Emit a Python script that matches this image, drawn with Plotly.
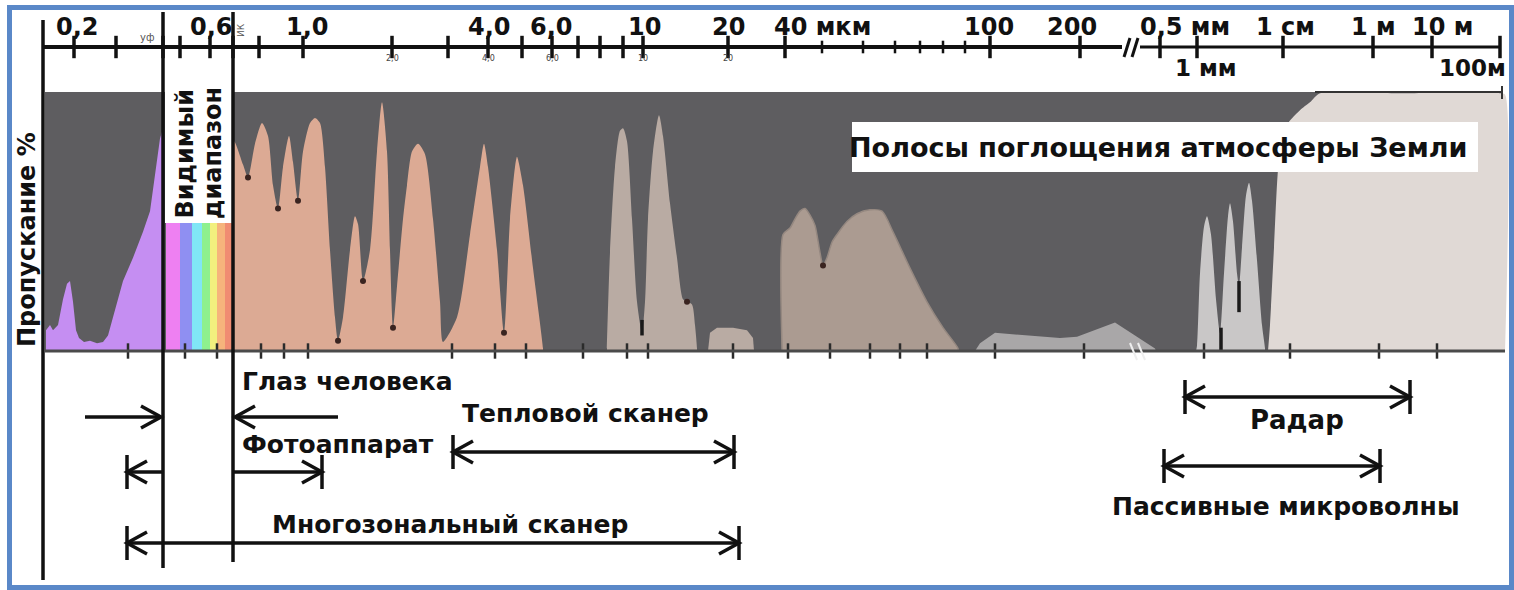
import plotly.graph_objects as go

# ---------------- data ----------------
# x: position along the drawn (non-uniform, piecewise-log) wavelength scale
# y: transmission of the Earth's atmosphere, %
UV_POS = [46, 46, 50, 53, 58, 63, 67, 70, 73, 76, 79, 84, 90, 97, 103, 108, 113, 118, 123, 133, 143, 150, 153, 156, 160, 163, 163]
UV_T = [0, 8, 10, 8, 10, 20, 26, 27, 19, 8, 5, 3.5, 4, 3, 3.5, 6, 13, 20, 27, 36, 46, 54, 62, 72, 82, 86, 0]

NIR_POS = [234, 234, 243, 248, 255, 262, 268, 273, 278, 283, 289, 293, 298, 303, 310, 315, 320, 325, 330, 335,
           338, 343, 350, 355, 358, 363, 370, 377, 382, 387, 390, 393, 397, 403, 407, 412, 418, 425, 433, 440,
           443, 457, 470, 480, 484, 488, 497, 504, 510, 515, 517, 523, 533, 543, 543]
NIR_T = [0, 81, 72, 67, 80, 88, 83, 64, 55, 71, 83, 73, 58, 77, 88, 90, 88, 71, 39, 13,
         4, 13, 39, 52, 49, 27, 39, 77, 96, 77, 39, 9, 25, 51, 64, 77, 80, 76, 51, 19,
         3.5, 13, 45, 71, 80, 71, 39, 7, 51, 71, 75, 64, 32, 1, 0]

TIR_A_POS = [607, 607, 610, 615, 620, 623, 627, 632, 637, 642, 645, 648, 653, 659, 663, 670, 677, 683, 687, 692, 695, 697, 697]
TIR_A_T = [0, 1, 38, 71, 85, 86, 81, 51, 19, 7, 19, 51, 77, 91, 83, 57, 36, 20, 19, 18, 10, 1, 0]

TIR_B_POS = [708, 710, 717, 733, 747, 753, 754]
TIR_B_T = [0, 7, 9, 9, 8, 5, 0]

TIR_C_POS = [782, 782, 783, 790, 795, 800, 805, 810, 815, 820, 823, 827, 832, 837, 847, 857, 870, 882, 893, 910, 927, 943, 958, 958]
TIR_C_T = [0, 1, 45, 47.5, 51, 54, 55, 52.5, 48.5, 38, 33, 36, 42, 45, 50, 53, 54.5, 54, 46, 32, 19, 9, 1, 0]

FIR_POS = [975, 980, 995, 1030, 1060, 1077, 1095, 1115, 1135, 1155, 1156]
FIR_T = [0, 3, 7, 6, 5, 5.5, 8, 11, 6, 1, 0]

MW_POS = [1196, 1197, 1200, 1204, 1207, 1211, 1216, 1220, 1224, 1228, 1230, 1233, 1237, 1239, 1242, 1246, 1249, 1252, 1257, 1262, 1265, 1265]
MW_T = [0, 2, 30, 48, 52, 45, 20, 7, 30, 52, 57, 50, 30, 25, 40, 60, 65, 58, 35, 10, 1, 0]

RADIO_POS = [1268, 1270, 1274, 1278, 1283, 1290, 1300, 1310, 1320, 1400, 1500, 1505, 1505]
RADIO_T = [0, 10, 40, 70, 85, 89, 93, 96, 99.5, 99.5, 99.5, 99, 0]

# absorption-line marks
DOT_POS = [248, 278, 298, 338, 363, 393, 504, 687, 823]
DOT_T = [67, 55, 58, 4, 27, 9, 7, 19, 33]
SLIT_POS = [642, 1221, 1239]
SLIT_LO = [6, 0, 15]
SLIT_HI = [12, 9, 27]

# visible spectrum
VIS_EDGES = [166, 180, 192, 202, 210, 217, 225, 233]
VIS_COLORS = ["#ee80f2", "#8f8ff2", "#80e6f6", "#8ef08e", "#f2f07e", "#f6b47c", "#f08c72"]
VIS_RANGE = [163, 233]
UV_EDGE = 43

# wavelength scale
TOP_TICKS_MAJOR = [74, 116, 163, 180, 210, 233, 259, 303, 392, 448, 488, 522, 552, 578, 600, 623, 643, 728, 785,
                   990, 1080, 1160, 1197, 1283, 1373, 1432, 1500]
TOP_TICKS_MINOR = [822, 863, 895, 920, 943, 965]
TOP_LABELS = ["0,2", "0,6", "1,0", "4,0", "6,0", "10", "20", "40 мкм", "100", "200", "0,5 мм", "1 см", "1 м", "10 м"]
TOP_LABEL_POS = [77, 211, 307, 489, 551, 644, 728, 822, 989, 1072, 1185, 1285, 1373, 1442]
ROW2_LABELS = ["1 мм", "100м"]
ROW2_POS = [1206, 1472]
SMALL_LABELS = ["2,0", "4,0", "6,0", "10", "20"]
SMALL_POS = [392, 488, 552, 643, 728]
BOTTOM_TICKS = [128, 185, 217, 261, 284, 308, 452, 495, 526, 583, 627, 648, 733, 788, 830, 870, 900, 927,
                995, 1084, 1204, 1290, 1379, 1437]
AXIS_START, AXIS_BREAK, AXIS_RESUME, AXIS_END = 42, 1122, 1140, 1500
BAND_START, BAND_END = 45, 1502

# sensors (ranges along the scale)
INSTR = ["Глаз человека", "Фотоаппарат", "Тепловой сканер", "Многозональный сканер", "Радар", "Пассивные микроволны"]
INSTR_LO = [163, 127, 453, 127, 1185, 1164]
INSTR_HI = [233, 322, 734, 739, 1410, 1380]

# ---------------- layout helpers ----------------
W, H = 1514, 590
BASE_PX, PX_PER_PCT = 351, 2.59


def yv(px):
    """vertical pixel row -> transmission axis value"""
    return (BASE_PX - px) / PX_PER_PCT


FONT = "DejaVu Sans"
BLACK = "#111111"
shapes = []
annotations = []


def line(x0, p0, x1, p1, w=3.5, color=BLACK, layer="above"):
    shapes.append(dict(type="line", xref="x", yref="y", x0=x0, x1=x1, y0=yv(p0), y1=yv(p1),
                       line=dict(color=color, width=w), layer=layer))


def rect(x0, p0, x1, p1, fill, layer="above", lw=0, lc=None):
    shapes.append(dict(type="rect", xref="x", yref="y", x0=x0, x1=x1, y0=yv(p1), y1=yv(p0),
                       fillcolor=fill, line=dict(width=lw, color=lc or fill), layer=layer))


HEAD_L, HEAD_H, BAR_H = 20, 11, 17


def head(xt, p, d, bar=False):
    path = (f"M {xt - d * HEAD_L},{yv(p - HEAD_H)} L {xt},{yv(p)} "
            f"L {xt - d * HEAD_L},{yv(p + HEAD_H)}")
    shapes.append(dict(type="path", xref="x", yref="y", path=path,
                       line=dict(color=BLACK, width=3.5), layer="above"))
    if bar:
        line(xt, p - BAR_H, xt, p + BAR_H, w=3.5)


def text(x, p, s, size, xanchor="center", angle=0, color=BLACK, yanchor="middle", bold=True):
    annotations.append(dict(x=x, y=yv(p), xref="x", yref="y", text=s, showarrow=False,
                            xanchor=xanchor, yanchor=yanchor, textangle=angle,
                            font=dict(family=FONT, size=size, color=color, weight=700 if bold else 400)))


fig = go.Figure()

# absorption background band
rect(BAND_START, 92, BAND_END, BASE_PX, "#5e5d60", layer="below")

# transmission windows
windows = [
    (UV_POS, UV_T, "#c58ef2", None, "linear"),
    (NIR_POS, NIR_T, "#dcaa94", None, "spline"),
    (TIR_A_POS, TIR_A_T, "#b9aba3", None, "spline"),
    (TIR_B_POS, TIR_B_T, "#b9aba3", None, "linear"),
    (TIR_C_POS, TIR_C_T, "#ab9b91", "#958880", "spline"),
    (FIR_POS, FIR_T, "#a9a7a8", None, "linear"),
    (MW_POS, MW_T, "#c9c7c7", None, "spline"),
    (RADIO_POS, RADIO_T, "#e0d9d5", None, "spline"),
]
for xs, ys, col, edge, shp in windows:
    fig.add_trace(go.Scatter(x=xs, y=ys, fill="toself", fillcolor=col, mode="lines",
                             line=dict(width=1.5 if edge else 0, color=edge or col, shape=shp, smoothing=0.7),
                             hoverinfo="skip", showlegend=False))

# visible rainbow
centers = [(a + b) / 2 for a, b in zip(VIS_EDGES[:-1], VIS_EDGES[1:])]
widths = [b - a for a, b in zip(VIS_EDGES[:-1], VIS_EDGES[1:])]
fig.add_trace(go.Bar(x=centers, y=[100] * len(centers), width=widths, marker=dict(color=VIS_COLORS, line=dict(width=0)),
                     hoverinfo="skip", showlegend=False))

# absorption line marks
fig.add_trace(go.Scatter(x=DOT_POS, y=DOT_T, mode="markers", marker=dict(size=6, color="#3a2420"),
                         hoverinfo="skip", showlegend=False))
sx, sy = [], []
for x, lo, hi in zip(SLIT_POS, SLIT_LO, SLIT_HI):
    sx += [x, x, None]
    sy += [lo, hi, None]
fig.add_trace(go.Scatter(x=sx, y=sy, mode="lines", line=dict(color="#1a1a1a", width=3.5),
                         hoverinfo="skip", showlegend=False))

# top wavelength scale ticks
fig.add_trace(go.Scatter(x=TOP_TICKS_MAJOR, y=[yv(47)] * len(TOP_TICKS_MAJOR), mode="markers",
                         marker=dict(symbol="line-ns", size=16, line=dict(width=3.5, color=BLACK)),
                         hoverinfo="skip", showlegend=False))
fig.add_trace(go.Scatter(x=TOP_TICKS_MINOR, y=[yv(47)] * len(TOP_TICKS_MINOR), mode="markers",
                         marker=dict(symbol="line-ns", size=9, line=dict(width=2.5, color=BLACK)),
                         hoverinfo="skip", showlegend=False))
fig.add_trace(go.Scatter(x=BOTTOM_TICKS, y=[0] * len(BOTTOM_TICKS), mode="markers",
                         marker=dict(symbol="line-ns", size=11, line=dict(width=2.5, color="#2b2b2b")),
                         hoverinfo="skip", showlegend=False))

# white boxes
rect(VIS_RANGE[0] + 2, 84, VIS_RANGE[1] - 1, 223, "white")
rect(852, 122, 1478, 172, "white")

# band bottom line and top-right edge
line(BAND_START, BASE_PX, 1505, BASE_PX, w=3, color="#4a4a4a")
line(1315, 92, BAND_END, 92, w=2, color="#333333")
line(BAND_END, 86, BAND_END, 99, w=2, color="#333333")
line(1130, 343, 1137, 360, w=2, color="#eeeeee")
line(1138, 343, 1145, 360, w=2, color="#eeeeee")

# top axis
line(AXIS_START, 47, AXIS_BREAK, 47, w=4)
line(AXIS_RESUME, 47, AXIS_END, 47, w=3)
line(AXIS_BREAK + 2, 57, AXIS_BREAK + 8, 38, w=3)
line(AXIS_BREAK + 10, 57, AXIS_BREAK + 16, 38, w=3)

# vertical boundary lines
line(UV_EDGE, 20, UV_EDGE, 580)
line(VIS_RANGE[0], 12, VIS_RANGE[0], 568)
line(VIS_RANGE[1], 12, VIS_RANGE[1], 562)

# sensor arrows
lo, hi = INSTR_LO[0], INSTR_HI[0]
line(lo - 78, 417, lo - 2, 417); head(lo - 2, 417, +1)
line(hi + 2, 417, hi + 105, 417); head(hi + 2, 417, -1)

lo, hi = INSTR_LO[1], INSTR_HI[1]
line(VIS_RANGE[0], 472, lo, 472); head(lo, 472, -1, bar=True)
line(VIS_RANGE[1], 472, hi, 472); head(hi, 472, +1, bar=True)

rows = {2: 452, 3: 543, 4: 397, 5: 466}
for i, p in rows.items():
    lo, hi = INSTR_LO[i], INSTR_HI[i]
    line(lo, p, hi, p)
    head(lo, p, -1, bar=True)
    head(hi, p, +1, bar=True)

# border
shapes.append(dict(type="rect", xref="x", yref="y", x0=9.5, x1=1511.5, y0=yv(587.5), y1=yv(7.5),
                   line=dict(color="#5a88c8", width=5), fillcolor="rgba(0,0,0,0)", layer="above"))

# texts
for s, x in zip(TOP_LABELS, TOP_LABEL_POS):
    text(x, 27, s, 24)
for s, x in zip(ROW2_LABELS, ROW2_POS):
    text(x, 68, s, 23)
for s, x in zip(SMALL_LABELS, SMALL_POS):
    text(x, 58, s, 8, color="#444444", bold=False)
text(147, 37, "уф", 10, color="#555555", bold=False)
text(241, 30, "ИК", 9, angle=-90, color="#555555", bold=False)

text(27, 240, "Пропускание %", 24, angle=-90)
text(184, 221, "Видимый", 24, angle=-90, yanchor="bottom")
text(213, 221, "диапазон", 24, angle=-90, yanchor="bottom")
text(1158, 147, "Полосы поглощения атмосферы Земли", 27)

text(240, 381, INSTR[0], 25, xanchor="left")
text(240, 444, INSTR[1], 25, xanchor="left")
text(585, 413, INSTR[2], 25)
text(450, 524, INSTR[3], 25)
text(1297, 420, INSTR[4], 26)
text(1286, 506, INSTR[5], 25)

fig.update_layout(
    width=W, height=H, autosize=False,
    margin=dict(l=0, r=0, t=0, b=0),
    paper_bgcolor="white", plot_bgcolor="white",
    xaxis=dict(range=[0, W], visible=False, fixedrange=True),
    yaxis=dict(range=[yv(H), yv(0)], visible=False, fixedrange=True),
    shapes=shapes, annotations=annotations,
    bargap=0, showlegend=False,
)

fig.write_html("out.html", config={"displayModeBar": False},
               post_script="document.body.style.margin='0';")
